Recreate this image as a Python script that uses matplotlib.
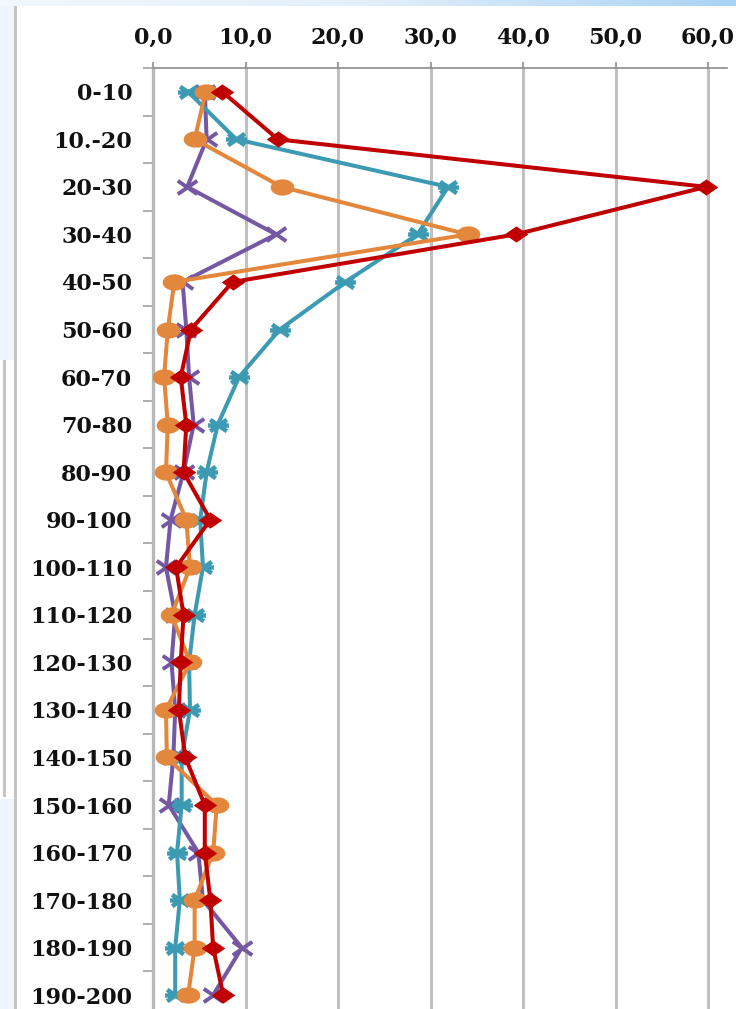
import numpy as np
import matplotlib
matplotlib.use("Agg")
import matplotlib.pyplot as plt
from matplotlib.patches import Rectangle
from matplotlib.path import Path

# depth classes (cm) and the four profiles
depths = ["0-10", "10.-20", "20-30", "30-40", "40-50", "50-60", "60-70",
          "70-80", "80-90", "90-100", "100-110", "110-120", "120-130",
          "130-140", "140-150", "150-160", "160-170", "170-180",
          "180-190", "190-200"]

red_vals = [7.5, 13.5, 59.8, 39.2, 8.6, 4.1, 3.0, 3.6, 3.3, 6.2,
            2.5, 3.3, 3.0, 2.8, 3.5, 5.6, 5.6, 6.2, 6.5, 7.6]
orange_vals = [5.7, 4.5, 13.9, 34.0, 2.3, 1.6, 1.2, 1.6, 1.4, 3.6,
               4.0, 2.0, 4.0, 1.4, 1.5, 6.9, 6.5, 4.5, 4.5, 3.8]
teal_vals = [3.8, 9.0, 31.9, 28.6, 20.8, 13.7, 9.3, 7.0, 5.8, 5.1,
             5.4, 4.5, 3.9, 4.0, 3.1, 3.1, 2.6, 2.9, 2.4, 2.4]
purple_vals = [5.6, 5.8, 3.7, 13.3, 3.2, 3.6, 3.9, 4.4, 3.3, 1.9,
               1.4, 2.4, 2.0, 2.4, 2.2, 1.7, 4.9, 5.4, 9.6, 6.5]

x_ticks = [0, 10, 20, 30, 40, 50, 60]

W, H = 736, 1009
sx = 1.45  # the source picture is stretched sideways, so are its markers

# wide markers
diamond = Path([(-sx, 0), (0, 1), (sx, 0), (0, -1), (-sx, 0)],
               [Path.MOVETO, Path.LINETO, Path.LINETO, Path.LINETO, Path.CLOSEPOLY])
t = np.linspace(0, 2 * np.pi, 40)
ellipse = Path(np.column_stack([sx * np.cos(t), np.sin(t)]), closed=True)
star = Path([(-sx * 0.8, -0.8), (sx * 0.8, 0.8), (-sx * 0.8, 0.8), (sx * 0.8, -0.8),
             (-sx, 0), (sx, 0)],
            [Path.MOVETO, Path.LINETO, Path.MOVETO, Path.LINETO, Path.MOVETO, Path.LINETO])
cross = Path([(-sx, -1), (sx, 1), (-sx, 1), (sx, -1)],
             [Path.MOVETO, Path.LINETO, Path.MOVETO, Path.LINETO])

fig = plt.figure(figsize=(W / 100, H / 100), dpi=100)
fig.patch.set_facecolor("white")

# slide background bits: light blue band on top, strip on the left
band = fig.add_axes([0, 1 - 6 / H, 1, 6 / H])
grad = np.linspace(0, 1, 256).reshape(1, -1)
band.imshow(grad, aspect="auto", cmap=matplotlib.colors.LinearSegmentedColormap.from_list(
    "b", ["#f2f8fd", "#e2effb", "#a9d3f4"]))
band.axis("off")
fig.add_artist(Rectangle((0, 1 - 360 / H), 14 / W, 354 / H, transform=fig.transFigure,
                         color="#eef5fc", lw=0, zorder=0))
fig.add_artist(Rectangle((0, 0), 14 / W, 210 / H, transform=fig.transFigure,
                         color="#eef5fc", lw=0, zorder=0))
fig.add_artist(Rectangle((14 / W, 0), 3 / W, 1 - 6 / H, transform=fig.transFigure,
                         color="#c4c4c4", lw=0, zorder=1))
fig.add_artist(Rectangle((3 / W, 1 - 797 / H), 3 / W, 437 / H, transform=fig.transFigure,
                         color="#c4c4c4", lw=0, zorder=1))

# axes: x axis on top, categories running downward
left, right, top, bottom = 153, 726.5, 68, 1019
ax = fig.add_axes([left / W, 1 - bottom / H, (right - left) / W, (bottom - top) / H])
ax.set_facecolor("none")

y = np.arange(len(depths))
lw = 2.9
ax.plot(purple_vals, y, color="#7458a2", lw=lw, marker=cross, ms=14, mew=2.8, zorder=3)
ax.plot(teal_vals, y, color="#3d9ab3", lw=lw, marker=star, ms=15, mew=3.2, zorder=4)
ax.plot(orange_vals, y, color="#e2873c", lw=lw, marker=ellipse, ms=17, mew=0, zorder=5)
ax.plot(red_vals, y, color="#c00000", lw=lw, marker=diamond, ms=17, mew=0, zorder=6)

ax.set_xlim(0, 62)
ax.set_ylim(len(depths) - 0.5, -0.5)

ax.xaxis.tick_top()
ax.set_xticks(x_ticks)
ax.set_xticklabels([f"{v:.1f}".replace(".", ",") for v in x_ticks])
ax.set_yticks(y)
ax.set_yticklabels(depths)
ax.set_yticks(np.arange(len(depths) + 1) - 0.5, minor=True)

ax.tick_params(axis="x", which="major", length=4.5, width=1.5, color="#a0a0a0", pad=9)
ax.tick_params(axis="y", which="major", length=0, pad=15)
ax.tick_params(axis="y", which="minor", length=7, width=1.2, color="#a0a0a0")
for lab in ax.get_xticklabels() + ax.get_yticklabels():
    lab.set_fontfamily("DejaVu Serif")
    lab.set_fontweight("bold")
    lab.set_fontsize(16)
    lab.set_color("#111111")

ax.grid(axis="x", color="#c0c0c0", lw=2.2, zorder=1)
ax.set_axisbelow(True)
for s in ["right", "bottom"]:
    ax.spines[s].set_visible(False)
ax.spines["top"].set_color("#8c8c8c")
ax.spines["top"].set_linewidth(1.2)
ax.spines["left"].set_color("#b8b8b8")
ax.spines["left"].set_linewidth(2.4)

fig.savefig("out.png", dpi=100)
